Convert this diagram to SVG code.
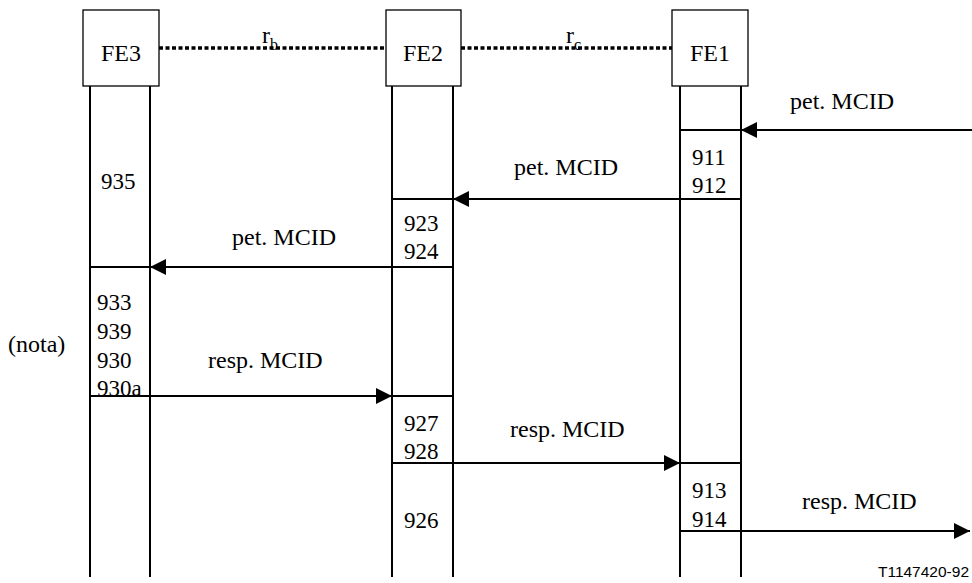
<svg xmlns="http://www.w3.org/2000/svg" width="972" height="583" viewBox="0 0 972 583">
<style>
.box{fill:#fff;stroke:#000;stroke-width:1.3}
.ll{stroke:#000;stroke-width:2;fill:none}
.dot{stroke:#000;stroke-width:3.5;stroke-dasharray:4 2.5;fill:none}
.t{font-family:'Liberation Serif','Times New Roman',serif;font-size:23px;fill:#000}
.l{font-family:'Liberation Serif','Times New Roman',serif;font-size:24px;fill:#000}
.s{font-family:'Liberation Serif','Times New Roman',serif;font-size:16px;fill:#000}
.ref{font-family:'Liberation Sans',Arial,sans-serif;font-size:15.5px;fill:#000}
.ar{stroke:#000;stroke-width:2;fill:none;marker-end:url(#ah)}
</style>
<defs>
<marker id="ah" markerUnits="userSpaceOnUse" markerWidth="16" markerHeight="16" viewBox="0 0 16 16" refX="16" refY="8" orient="auto">
<path d="M0,0 L16,8 L0,16 Z" fill="#000"/>
</marker>
</defs>
<rect width="972" height="583" fill="#fff"/>
<g id="links">
<line class="dot" x1="159" y1="48" x2="386" y2="48"/>
<line class="dot" x1="461" y1="48" x2="673" y2="48"/>
<text class="l" x="262" y="43">r</text><text class="s" x="270" y="50">b</text>
<text class="l" x="566" y="43">r</text><text class="s" x="574" y="50">c</text>
</g>
<g id="FE3">
<rect class="box" x="83" y="10" width="76" height="76"/>
<text class="l" x="121" y="61" text-anchor="middle">FE3</text>
<line class="ll" x1="90" y1="86" x2="90" y2="577"/>
<line class="ll" x1="150" y1="86" x2="150" y2="577"/>
<line class="ll" x1="90" y1="267" x2="150" y2="267"/>
<line class="ll" x1="90" y1="396" x2="150" y2="396"/>
<text class="t" x="101" y="189">935</text>
<text class="t" x="97" y="310">933</text>
<text class="t" x="97" y="339">939</text>
<text class="t" x="97" y="368">930</text>
<text class="t" x="97" y="396">930a</text>
</g>
<g id="FE2">
<rect class="box" x="386" y="10" width="75" height="76"/>
<text class="l" x="423" y="61" text-anchor="middle">FE2</text>
<line class="ll" x1="392" y1="86" x2="392" y2="577"/>
<line class="ll" x1="453" y1="86" x2="453" y2="577"/>
<line class="ll" x1="392" y1="199" x2="453" y2="199"/>
<line class="ll" x1="392" y1="267" x2="453" y2="267"/>
<line class="ll" x1="392" y1="396" x2="453" y2="396"/>
<line class="ll" x1="392" y1="463" x2="453" y2="463"/>
<text class="t" x="404" y="231">923</text>
<text class="t" x="404" y="259">924</text>
<text class="t" x="404" y="431">927</text>
<text class="t" x="404" y="459">928</text>
<text class="t" x="404" y="528">926</text>
</g>
<g id="FE1">
<rect class="box" x="672" y="10" width="76" height="76"/>
<text class="l" x="710" y="61" text-anchor="middle">FE1</text>
<line class="ll" x1="680" y1="86" x2="680" y2="577"/>
<line class="ll" x1="741" y1="86" x2="741" y2="577"/>
<line class="ll" x1="680" y1="130" x2="741" y2="130"/>
<line class="ll" x1="680" y1="199" x2="741" y2="199"/>
<line class="ll" x1="680" y1="463" x2="741" y2="463"/>
<line class="ll" x1="680" y1="531" x2="741" y2="531"/>
<text class="t" x="692" y="165">911</text>
<text class="t" x="692" y="193">912</text>
<text class="t" x="692" y="498">913</text>
<text class="t" x="692" y="527">914</text>
</g>
<g id="connectors">
<line class="ar" x1="972" y1="130" x2="741" y2="130"/>
<line class="ar" x1="680" y1="199" x2="453" y2="199"/>
<line class="ar" x1="392" y1="267" x2="150" y2="267"/>
<line class="ar" x1="150" y1="396" x2="392" y2="396"/>
<line class="ar" x1="453" y1="463" x2="680" y2="463"/>
<line class="ar" x1="741" y1="531" x2="970" y2="531"/>
<text class="l" x="790" y="109">pet. MCID</text>
<text class="l" x="514" y="175">pet. MCID</text>
<text class="l" x="232" y="245">pet. MCID</text>
<text class="l" x="208" y="368">resp. MCID</text>
<text class="l" x="510" y="437">resp. MCID</text>
<text class="l" x="802" y="509">resp. MCID</text>
</g>
<text class="l" x="8" y="352">(nota)</text>
<text class="ref" x="969" y="577" text-anchor="end">T1147420-92</text>
</svg>
